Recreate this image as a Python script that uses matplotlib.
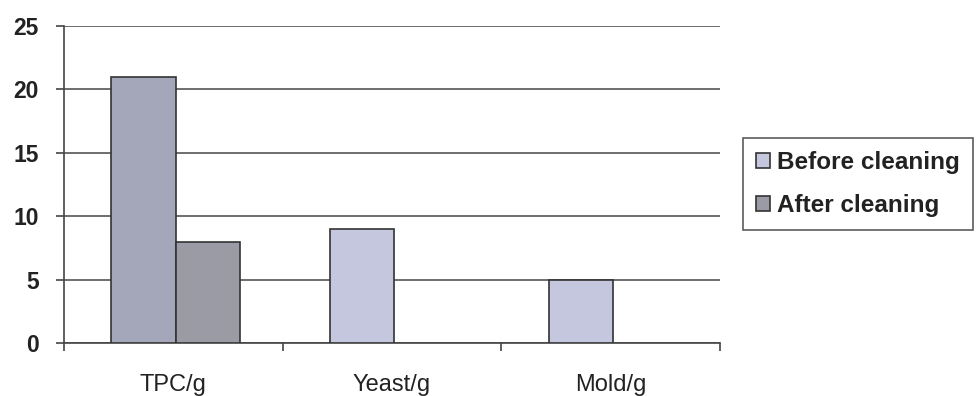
import matplotlib
matplotlib.use("Agg")
import matplotlib.pyplot as plt
import numpy as np

categories = ["TPC/g", "Yeast/g", "Mold/g"]
before_cleaning = [21, 9, 5]
after_cleaning = [8, 0, 0]
y_ticks = [0, 5, 10, 15, 20, 25]

plt.rcParams["font.family"] = ["Liberation Sans", "DejaVu Sans"]

fig = plt.figure(figsize=(9.77, 3.96), dpi=100)
ax = fig.add_axes([64 / 977, 53 / 396, 656 / 977, 317 / 396])

x = np.arange(len(categories))
w = 0.293
before_colors = ["#a4a7ba", "#c4c7dd", "#c4c7dd"]
ax.bar(x - w / 2 + 0.01, before_cleaning, w, color=before_colors, edgecolor="#333333",
       linewidth=1.2, label="Before cleaning", zorder=3)
after_vals = np.array(after_cleaning, dtype=float)
mask = after_vals > 0
ax.bar(x[mask] + w / 2 + 0.01, after_vals[mask], w, color="#9b9ba6", edgecolor="#333333",
       linewidth=1.2, label="After cleaning", zorder=3)

ax.set_xlim(-0.5, len(categories) - 0.5)
ax.set_ylim(0, 25)
ax.set_yticks(y_ticks)
ax.set_yticklabels([str(t) for t in y_ticks], fontsize=16.5, fontweight="bold", color="#222222")
ax.yaxis.grid(True, color="#555555", linewidth=1.2, zorder=0)
ax.set_axisbelow(True)

ax.set_xticks(x)
ax.set_xticklabels(categories, fontsize=17, color="#222222")
ax.set_xticks(np.arange(len(categories) + 1) - 0.5, minor=True)
ax.tick_params(axis="x", which="major", length=0, pad=22)
ax.tick_params(axis="x", which="minor", length=6, width=1.2, color="#444444")
ax.tick_params(axis="y", length=6, width=1.2, color="#444444", pad=12)

for side in ["top", "right"]:
    ax.spines[side].set_visible(False)
for side in ["left", "bottom"]:
    ax.spines[side].set_color("#444444")
    ax.spines[side].set_linewidth(1.2)

leg = fig.legend(loc="upper left", bbox_to_anchor=(743 / 977, 1 - 138 / 396), fontsize=17.5,
                 frameon=True, fancybox=False, edgecolor="#333333",
                 handlelength=0.55, handleheight=0.55, handletextpad=0.3,
                 borderpad=0.55, labelspacing=0.8, borderaxespad=0)
leg.get_frame().set_linewidth(1.2)
for t in leg.get_texts():
    t.set_fontweight("bold")
    t.set_color("#222222")
leg.legend_handles[0].set_facecolor("#c4c7dd")

fig.savefig("out.png", dpi=100)
